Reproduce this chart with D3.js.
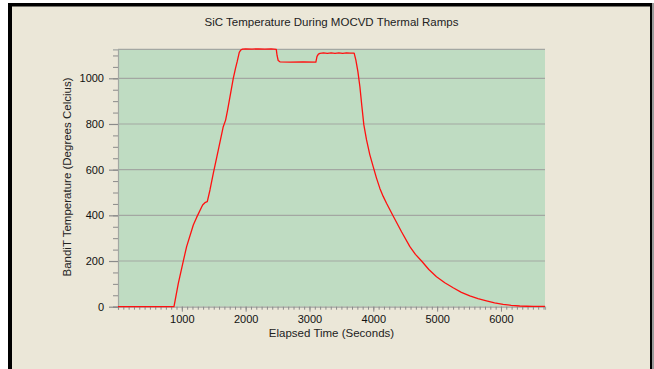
<!DOCTYPE html>
<html><head><meta charset="utf-8">
<script src="https://cdn.jsdelivr.net/npm/d3@7"></script>
<style>
html,body{margin:0;padding:0;background:#fff;}
svg{display:block;font-family:"Liberation Sans",Arial,sans-serif;}
</style></head>
<body>
<svg id="c" width="654" height="369"></svg>
<script>
const title = "SiC Temperature During MOCVD Thermal Ramps";
const xLabel = "Elapsed Time (Seconds)";
const yLabel = "BandiT Temperature (Degrees Celcius)";
const xTicks = [1000, 2000, 3000, 4000, 5000, 6000];
const yTicks = [0, 200, 400, 600, 800, 1000];
const xDomain = [0, 6690];
const yDomain = [0, 1127];
// elapsed time (s)
const timeSec = [0, 400, 877, 945, 1023, 1075, 1180, 1232, 1326, 1370, 1399, 1441, 1493, 1571, 1649, 1686, 1717, 1806, 1840, 1869, 1900, 1925, 1950,
  2000, 2100, 2200, 2300, 2400, 2480, 2492, 2510, 2537, 2700, 2900, 3100, 3118, 3140, 3163,
  3220, 3280, 3340, 3400, 3460, 3520, 3580, 3640, 3700, 3727, 3758, 3790, 3820, 3852, 3894, 3945,
  3998, 4050, 4103, 4155, 4207, 4311, 4442, 4573, 4660, 4756, 4870, 4990, 5120, 5251, 5380, 5512, 5640, 5773, 5900, 6034, 6160, 6295, 6400, 6503, 6690];
// temperature (deg C)
const tempC = [0, 0, 0, 102, 200, 263, 358, 391, 445, 457, 460, 511, 584, 686, 788, 817, 861, 1000, 1042, 1075, 1114, 1124, 1128,
  1129, 1128, 1129, 1128, 1129, 1127, 1100, 1078, 1072, 1071, 1072, 1071, 1096, 1106, 1109,
  1111, 1109, 1111, 1109, 1111, 1109, 1111, 1110, 1110, 1080, 1030, 963, 880, 796, 730, 666,
  613, 563, 518, 483, 453, 397, 328, 263, 229, 200, 163, 131, 105, 83, 63, 47, 35, 26, 17, 10, 6, 3, 2, 1, 1];

const svg = d3.select("#c");
// frame
svg.append("rect").attr("x", 8).attr("y", 3).attr("width", 645).attr("height", 420).attr("fill", "#000");
svg.append("rect").attr("x", 652).attr("y", 3).attr("width", 2).attr("height", 420).attr("fill", "#9a9a9a");
svg.append("rect").attr("x", 12).attr("y", 6.5).attr("width", 638).attr("height", 420).attr("fill", "#ebe7d8");

const x = d3.scaleLinear().domain(xDomain).range([118, 545]);
const y = d3.scaleLinear().domain(yDomain).range([306.7, 49.3]);

svg.append("rect").attr("x", x(xDomain[0])).attr("y", y(yDomain[1]))
  .attr("width", x(xDomain[1]) - x(xDomain[0])).attr("height", y(0) - y(yDomain[1]))
  .attr("fill", "#bfdcc2");

// gridlines
svg.append("g").selectAll("line").data(yTicks.filter(d => d > 0)).join("line")
  .attr("x1", x(xDomain[0])).attr("x2", x(xDomain[1]))
  .attr("y1", d => y(d)).attr("y2", d => y(d))
  .attr("stroke", "#a3a7a2").attr("stroke-width", 1.2);
svg.append("line").attr("x1", x(xDomain[0])).attr("x2", x(xDomain[1]))
  .attr("y1", y(yDomain[1])).attr("y2", y(yDomain[1])).attr("stroke", "#a3a7a2").attr("stroke-width", 1.2);

// y axis
const yMinor = d3.range(0, 1127, 50);
const yAx = svg.append("g").attr("transform", `translate(${x(xDomain[0])},0)`)
  .call(d3.axisLeft(y).tickValues(yMinor).tickSize(5).tickFormat(""));
yAx.select(".domain").attr("stroke", "#a3a7a2").attr("stroke-width", 1.2);
yAx.selectAll(".tick line").attr("stroke", "#8a8a8a");
const yAx2 = svg.append("g").attr("transform", `translate(${x(xDomain[0])},0)`)
  .call(d3.axisLeft(y).tickValues(yTicks).tickSize(9).tickPadding(5).tickFormat(d3.format("d")));
yAx2.select(".domain").remove();
yAx2.selectAll(".tick line").attr("stroke", "#8a8a8a").attr("stroke-width", 1.2);
yAx2.selectAll("text").attr("font-size", 11).attr("fill", "#111").attr("font-family", "Liberation Sans, Arial, sans-serif");

// x axis
const xMinor = d3.range(0, 6690, 1000 / 12);
const xAx = svg.append("g").attr("transform", `translate(0,${y(0)})`)
  .call(d3.axisBottom(x).tickValues(xMinor).tickSize(3).tickFormat(""));
xAx.select(".domain").attr("stroke", "#a3a7a2").attr("stroke-width", 1.2);
xAx.selectAll(".tick line").attr("stroke", "#8a8a8a");
const xAx2 = svg.append("g").attr("transform", `translate(0,${y(0)})`)
  .call(d3.axisBottom(x).tickValues(xTicks).tickSize(5).tickPadding(4).tickFormat(d3.format("d")));
xAx2.select(".domain").remove();
xAx2.selectAll(".tick line").attr("stroke", "#8a8a8a");
xAx2.selectAll("text").attr("font-size", 11).attr("fill", "#111").attr("font-family", "Liberation Sans, Arial, sans-serif");

// data line
const line = d3.line().x((d, i) => x(timeSec[i])).y(d => y(d));
svg.append("path").datum(tempC).attr("d", line)
  .attr("fill", "none").attr("stroke", "#ff1010").attr("stroke-width", 1.3).attr("stroke-linejoin", "round");

// texts
svg.append("text").attr("x", 331.5).attr("y", 26).attr("text-anchor", "middle")
  .attr("font-size", 11.5).attr("fill", "#222").text(title);
svg.append("text").attr("x", 331.5).attr("y", 337).attr("text-anchor", "middle")
  .attr("font-size", 11.5).attr("fill", "#222").text(xLabel);
svg.append("text").attr("transform", "translate(71,177) rotate(-90)").attr("text-anchor", "middle")
  .attr("font-size", 11.5).attr("fill", "#222").text(yLabel);
</script>
</body></html>
